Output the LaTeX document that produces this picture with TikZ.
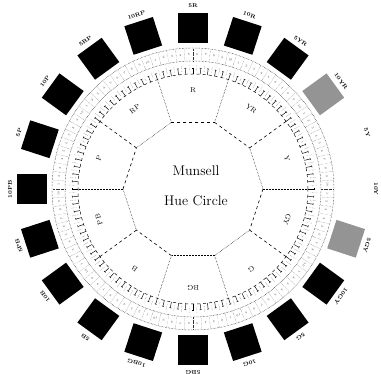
\documentclass[tikz,border=0pt]{standalone}
\usetikzlibrary{calc}
\begin{document}
\begin{tikzpicture}[x=1pt,y=1pt,
  swatch/.style={fill=black},
  graysw/.style={fill=black!42},
  hlab/.style={font=\fontsize{5.5}{6}\selectfont\bfseries,inner sep=0pt},
  slab/.style={font=\fontsize{7}{8}\selectfont,inner sep=0pt},
  numlab/.style={font=\fontsize{3}{3.2}\selectfont,inner sep=0pt,text=black!75},
  ringdot/.style={line width=0.45pt,densely dotted},
  celldot/.style={line width=0.3pt,densely dotted,black!80},
  tick/.style={line width=0.45pt},
  bdot/.style={line width=0.5pt,densely dotted},
  bdash/.style={line width=0.6pt,dashed},
  title/.style={font=\fontsize{14}{16}\selectfont,align=center,inner sep=0pt}
]
\useasboundingbox (-193,-185) rectangle (188,189);
\coordinate (C) at (0,0);

% colour swatches (rotated squares)
\foreach \i in {0,1,2,7,8,9,10,11,12,13,14,15,16,17,18,19} {
  \pgfmathsetmacro\a{90-18*\i}
  \coordinate (s\i) at (\a:161pt);
  \fill[swatch,rotate around={\a-90:(s\i)}] ($(s\i)+(-15,-15)$) rectangle ($(s\i)+(15,15)$);
}
\foreach \i in {3,6} {
  \pgfmathsetmacro\a{90-18*\i}
  \coordinate (s\i) at (\a:161pt);
  \fill[graysw,rotate around={\a-90:(s\i)}] ($(s\i)+(-15,-15)$) rectangle ($(s\i)+(15,15)$);
}

% hue labels
\foreach \lab [count=\i from 0] in {5R,10R,5YR,10YR,5Y,10Y,5GY,10GY,5G,10G,5BG,10BG,5B,10B,5PB,10PB,5P,10P,5RP,10RP} {
  \pgfmathsetmacro\a{90-18*\i}
  \node[hlab,rotate=\a-90] (h\i) at (\a:183pt) {\lab};
}

% hue ring
\draw[ringdot] (C) circle (141pt);
\draw[ringdot] (C) circle (128pt);
\draw[dashed,line width=0.5pt] (C) circle (115pt);
\foreach \j in {0,...,99} {
  \pgfmathsetmacro\a{90-3.6*\j}
  \pgfmathsetmacro\b{90-3.6*\j-1.8}
  \pgfmathtruncatemacro\n{mod(\j+5,10)+1}
  \draw[celldot] (\a:128pt) -- (\a:141pt);
  \draw[tick] (\a:115pt) -- (\a:121pt);
  \draw[tick] ($(\a:121pt)+(\a+90:1pt)$) -- ($(\a:121pt)+(\a-90:1pt)$);
  \draw[celldot] (\b:118pt) -- (\b:124pt);
  \node[numlab,rotate=\b-90] (n\j) at (\b:134.5pt) {\n};
}

% decagon and sector boundaries
\foreach \k in {0,...,9} {
  \pgfmathsetmacro\a{72-36*\k}
  \coordinate (v\k) at (\a:70pt);
  \coordinate (w\k) at (\a:115pt);
}
\foreach \k/\st in {0/bdot,1/bdash,2/bdot,3/bdash,4/bdot,5/bdot,6/bdash,7/bdot,8/bdash,9/bdot} {
  \draw[\st] (v\k) -- (w\k);
}
\foreach \k/\st in {0/bdash,1/bdot,2/bdash,3/bdot,4/bdot,5/bdash,6/bdot,7/bdash,8/bdot,9/bdash} {
  \pgfmathtruncatemacro\m{mod(\k+1,10)}
  \draw[\st] (v\k) -- (v\m);
}

% sector labels
\foreach \lab [count=\k from 0] in {R,YR,Y,GY,G,BG,B,PB,P,RP} {
  \pgfmathsetmacro\a{90-36*\k}
  \node[slab,rotate=\a-90] (z\k) at (\a:99pt) {\lab};
}

% title
\node[title] (t) at (3,3) {Munsell\\[14pt]Hue Circle};
\end{tikzpicture}
\end{document}
